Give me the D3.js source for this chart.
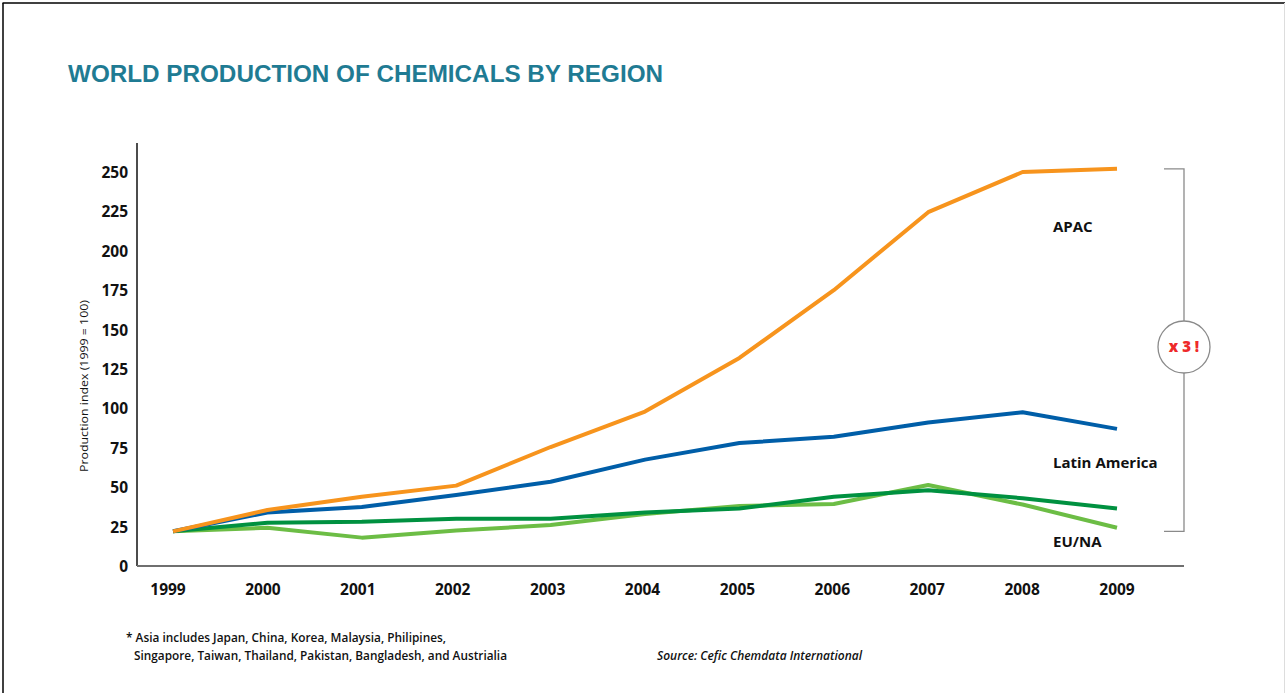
<!DOCTYPE html>
<html>
<head>
<meta charset="utf-8">
<script src="https://cdn.jsdelivr.net/npm/d3@7/dist/d3.min.js"></script>
<style>
  html, body { margin: 0; padding: 0; background: #fff; }
  svg { display: block; }
</style>
</head>
<body>
<svg id="chart" width="1285" height="693"></svg>
<script>
// ---- Data ----
const years = [1999, 2000, 2001, 2002, 2003, 2004, 2005, 2006, 2007, 2008, 2009];
const apac = [22, 35.5, 44, 51, 75.5, 98, 132, 175, 224.5, 250, 252];
const latinAmerica = [22, 34, 37.5, 45, 53.5, 67.5, 78, 82, 91, 97.5, 87];
const euDark = [22, 27.5, 28, 30, 30, 34, 36.5, 44, 48, 43, 36.5];
const euLight = [22, 24.3, 18, 22.5, 26, 33, 38, 39.3, 51.4, 39, 24.3];
const yTicks = [0, 25, 50, 75, 100, 125, 150, 175, 200, 225, 250];
const seriesNames = ["APAC", "Latin America", "EU/NA"];
const titleText = "WORLD PRODUCTION OF CHEMICALS BY REGION";
const yAxisTitle = "Production index (1999 = 100)";
const footnote1 = "* Asia includes Japan, China, Korea, Malaysia, Philipines,";
const footnote2 = "Singapore, Taiwan, Thailand, Pakistan, Bangladesh, and Austrialia";
const sourceText = "Source: Cefic Chemdata International";
const multiplierText = "x 3 !";

const series = [
  { name: "EU/NA light", values: euLight, color: "#6cbd45" },
  { name: "EU/NA dark", values: euDark, color: "#009140" },
  { name: "Latin America", values: latinAmerica, color: "#005ea8" },
  { name: "APAC", values: apac, color: "#f7941d" }
];

const svg = d3.select("#chart");
const font = "'Open Sans', 'Noto Sans', sans-serif";

// frame border
svg.append("line").attr("x1", 2.5).attr("x2", 1285).attr("y1", 3).attr("y2", 3)
  .attr("stroke", "#000").attr("stroke-width", 1.5);
svg.append("line").attr("x1", 3).attr("x2", 3).attr("y1", 3).attr("y2", 693)
  .attr("stroke", "#000").attr("stroke-width", 1.5);
svg.append("line").attr("x1", 1284.5).attr("x2", 1284.5).attr("y1", 3).attr("y2", 693)
  .attr("stroke", "#ddd").attr("stroke-width", 1);

// title
svg.append("text")
  .attr("x", 68).attr("y", 82)
  .attr("font-family", "'Liberation Sans', Arial, sans-serif")
  .attr("font-weight", 700)
  .attr("font-size", 24)
  .attr("fill", "#1f7b93")
  .attr("textLength", 595)
  .attr("lengthAdjust", "spacingAndGlyphs")
  .text(titleText);

// scales
const axisLeft = 137, axisRight = 1184, axisBottom = 566, axisTop = 143;
const y = d3.scaleLinear().domain([0, 250]).range([566, 172]);
const x = d3.scaleLinear().domain([1999, 2009]).range([173, 1117]);
const xLabel = d3.scaleLinear().domain([1999, 2009]).range([167.5, 1116.5]);

// y axis line
svg.append("line").attr("x1", axisLeft).attr("x2", axisLeft)
  .attr("y1", axisTop).attr("y2", axisBottom)
  .attr("stroke", "#111").attr("stroke-width", 1.5);

// y tick labels via d3 axis
const yAxis = d3.axisLeft(y).tickValues(yTicks).tickSize(0).tickPadding(0).tickFormat(d3.format("d"));
const gy = svg.append("g").attr("transform", `translate(128,0)`).call(yAxis);
gy.select(".domain").remove();
gy.selectAll("text")
  .attr("font-family", font).attr("font-weight", 700).attr("font-size", 15.5)
  .attr("fill", "#111").attr("dy", "0.36em");

// x axis
const xAxis = d3.axisBottom(xLabel).tickValues(years).tickSize(0).tickPadding(0).tickFormat(d3.format("d"));
const gx = svg.append("g").attr("transform", `translate(0,${axisBottom})`).call(xAxis);
gx.select(".domain").remove();
gx.selectAll("text")
  .attr("font-family", font).attr("font-weight", 700).attr("font-size", 15.5)
  .attr("fill", "#111").attr("y", 29).attr("dy", 0);

svg.append("line").attr("x1", axisLeft).attr("x2", axisRight)
  .attr("y1", axisBottom).attr("y2", axisBottom)
  .attr("stroke", "#6f6f6f").attr("stroke-width", 2);

// y axis title
svg.append("text")
  .attr("transform", `translate(88,386) rotate(-90)`)
  .attr("text-anchor", "middle")
  .attr("font-family", font).attr("font-size", 11.5).attr("font-weight", 400)
  .attr("fill", "#111")
  .attr("textLength", 172).attr("lengthAdjust", "spacingAndGlyphs")
  .text(yAxisTitle);

// lines
const line = d3.line().x((d, i) => x(years[i])).y(d => y(d));
svg.append("g").selectAll("path").data(series).join("path")
  .attr("d", d => line(d.values))
  .attr("fill", "none")
  .attr("stroke", d => d.color)
  .attr("stroke-width", 4)
  .attr("stroke-linejoin", "round");

// series labels
const labelY = [232, 468, 547];
svg.append("g").selectAll("text").data(seriesNames).join("text")
  .attr("x", 1053).attr("y", (d, i) => labelY[i])
  .attr("font-family", font).attr("font-weight", 700).attr("font-size", 15)
  .attr("fill", "#111")
  .text(d => d);

// bracket
const bx = 1184;
const bTop = y(d3.max(apac));
const bBottom = y(apac[0]);
const cY = 347, cR = 26;
const bracket = svg.append("g").attr("stroke", "#8a8a8a").attr("stroke-width", 1.3).attr("fill", "none");
bracket.append("path").attr("d", `M${bx - 20},${bTop} H${bx} V${cY - cR}`);
bracket.append("path").attr("d", `M${bx},${cY + cR} V${bBottom} H${bx - 20}`);
bracket.append("circle").attr("cx", bx).attr("cy", cY).attr("r", cR).attr("fill", "#fff");
svg.append("text").attr("x", bx).attr("y", cY + 5)
  .attr("text-anchor", "middle")
  .attr("font-family", font).attr("font-weight", 800).attr("font-size", 15)
  .attr("fill", "#ee2a2a")
  .text(multiplierText);

// footnotes
svg.append("text").attr("x", 126).attr("y", 642)
  .attr("font-family", font).attr("font-weight", 600).attr("font-size", 12.5)
  .attr("fill", "#111").attr("textLength", 320).attr("lengthAdjust", "spacingAndGlyphs")
  .text(footnote1);
svg.append("text").attr("x", 134).attr("y", 660)
  .attr("font-family", font).attr("font-weight", 600).attr("font-size", 12.5)
  .attr("fill", "#111").attr("textLength", 373).attr("lengthAdjust", "spacingAndGlyphs")
  .text(footnote2);
svg.append("text").attr("x", 657).attr("y", 660)
  .attr("font-family", font).attr("font-weight", 600).attr("font-style", "italic").attr("font-size", 12.5)
  .attr("fill", "#111").attr("textLength", 205).attr("lengthAdjust", "spacingAndGlyphs")
  .text(sourceText);
</script>
</body>
</html>
